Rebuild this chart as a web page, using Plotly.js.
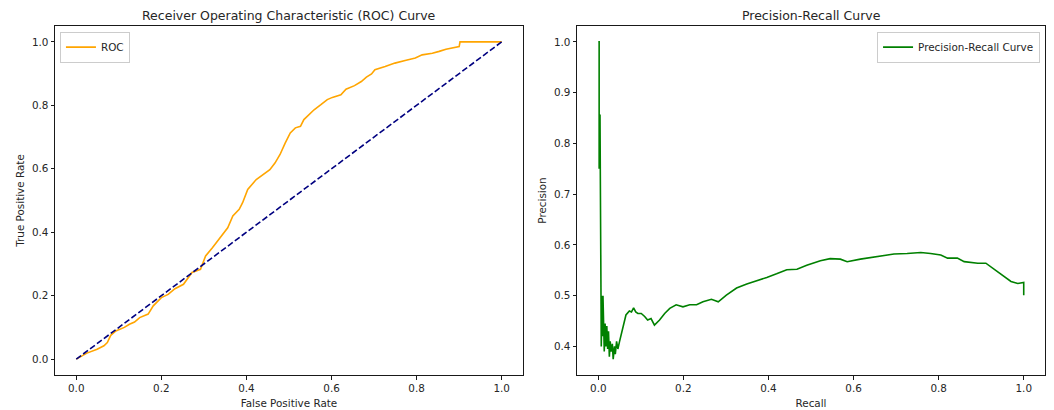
<!DOCTYPE html>
<html>
<head>
<meta charset="utf-8">
<script src="https://cdn.plot.ly/plotly-3.0.1.min.js"></script>
<style>html,body{margin:0;padding:0;background:#fff;}#chart{width:1054px;height:410px;}</style>
</head>
<body>
<div id="chart"></div>
<script>
// ROC curve data
const fpr = [0, 0.025, 0.049, 0.065, 0.073, 0.081, 0.093, 0.113, 0.125, 0.137, 0.149, 0.169, 0.181, 0.2, 0.216, 0.232, 0.252, 0.272, 0.292, 0.304, 0.32, 0.34, 0.356, 0.368, 0.383, 0.391, 0.403, 0.423, 0.439, 0.455, 0.467, 0.479, 0.491, 0.503, 0.515, 0.527, 0.535, 0.547, 0.559, 0.575, 0.59, 0.602, 0.622, 0.634, 0.654, 0.67, 0.682, 0.694, 0.702, 0.726, 0.749, 0.773, 0.797, 0.813, 0.837, 0.853, 0.869, 0.9, 0.902, 1.0];
const tpr = [0, 0.019, 0.031, 0.042, 0.052, 0.075, 0.089, 0.1, 0.11, 0.117, 0.131, 0.142, 0.168, 0.194, 0.204, 0.222, 0.236, 0.273, 0.283, 0.325, 0.351, 0.388, 0.414, 0.451, 0.472, 0.493, 0.535, 0.566, 0.582, 0.597, 0.618, 0.645, 0.681, 0.713, 0.729, 0.734, 0.755, 0.77, 0.786, 0.802, 0.818, 0.825, 0.833, 0.851, 0.862, 0.875, 0.889, 0.899, 0.912, 0.922, 0.933, 0.941, 0.949, 0.959, 0.964, 0.97, 0.977, 0.985, 1.0, 1.0];
// Chance diagonal
const diagX = [0, 1];
const diagY = [0, 1];
// Precision-Recall data
const recall = [0, 0.002, 0.002, 0.004, 0.004, 0.005, 0.005, 0.006, 0.006, 0.007, 0.009, 0.010, 0.011, 0.012, 0.013, 0.014, 0.016, 0.018, 0.020, 0.022, 0.024, 0.026, 0.028, 0.030, 0.033, 0.035, 0.038, 0.040, 0.043, 0.046, 0.050, 0.057, 0.065, 0.073, 0.078, 0.083, 0.088, 0.093, 0.101, 0.109, 0.116, 0.124, 0.132, 0.144, 0.156, 0.168, 0.183, 0.199, 0.215, 0.231, 0.246, 0.266, 0.282, 0.301, 0.325, 0.349, 0.372, 0.396, 0.419, 0.443, 0.467, 0.49, 0.522, 0.545, 0.569, 0.585, 0.616, 0.648, 0.671, 0.695, 0.726, 0.758, 0.781, 0.805, 0.821, 0.844, 0.86, 0.892, 0.911, 0.927, 0.943, 0.955, 0.97, 0.986, 1.0, 1.0];
const precision = [1.0, 1.0, 0.75, 0.8, 0.857, 0.75, 0.78, 0.54, 0.57, 0.4, 0.5, 0.42, 0.5, 0.44, 0.485, 0.39, 0.445, 0.40, 0.44, 0.395, 0.43, 0.38, 0.41, 0.39, 0.405, 0.375, 0.40, 0.385, 0.41, 0.395, 0.41, 0.433, 0.462, 0.47, 0.468, 0.476, 0.468, 0.465, 0.465, 0.459, 0.452, 0.455, 0.442, 0.452, 0.465, 0.475, 0.482, 0.478, 0.482, 0.482, 0.488, 0.493, 0.488, 0.501, 0.515, 0.523, 0.529, 0.536, 0.543, 0.551, 0.552, 0.56, 0.569, 0.573, 0.572, 0.567, 0.572, 0.576, 0.578, 0.582, 0.583, 0.585, 0.583, 0.58, 0.574, 0.574, 0.567, 0.564, 0.564, 0.554, 0.544, 0.537, 0.528, 0.524, 0.526, 0.501];
// Tick labels
const unitTicks = [0, 0.2, 0.4, 0.6, 0.8, 1.0];
const precTicks = [0.4, 0.5, 0.6, 0.7, 0.8, 0.9, 1.0];

const FONT = 'DejaVu Sans, Verdana, sans-serif';
const TXT = '#262626';

const traces = [
  {x: fpr, y: tpr, type: 'scatter', mode: 'lines', name: 'ROC',
   line: {color: '#FFA500', width: 1.6}, xaxis: 'x', yaxis: 'y', legend: 'legend'},
  {x: diagX, y: diagY, type: 'scatter', mode: 'lines', showlegend: false,
   line: {color: '#000080', width: 1.6, dash: '6px,2.6px'}, xaxis: 'x', yaxis: 'y'},
  {x: recall, y: precision, type: 'scatter', mode: 'lines', name: 'Precision-Recall Curve',
   line: {color: '#008000', width: 1.6}, xaxis: 'x2', yaxis: 'y2', legend: 'legend2'}
];

function axisBase(extra) {
  return Object.assign({
    showgrid: false, zeroline: false, showline: true, mirror: true,
    linecolor: '#000', linewidth: 0.9,
    ticks: 'outside', ticklen: 3.6, tickwidth: 0.9, tickcolor: '#000',
    tickfont: {family: FONT, size: 10.4, color: TXT},
    tickformat: '.1f', automargin: false
  }, extra);
}

const legendBase = {
  bordercolor: '#cccccc', borderwidth: 1, bgcolor: 'rgba(255,255,255,0.8)',
  font: {family: FONT, size: 10.4, color: TXT}, yanchor: 'top', itemwidth: 30,
  tracegroupgap: 0
};

const layout = {
  width: 1054, height: 410,
  margin: {l: 55, r: 9, t: 26, b: 35, pad: 0},
  paper_bgcolor: '#fff', plot_bgcolor: '#fff',
  font: {family: FONT, color: TXT},
  xaxis: axisBase({domain: [0, 0.4727], range: [-0.05, 1.05], tickvals: unitTicks, anchor: 'y',
    title: {text: 'False Positive Rate', font: {family: FONT, size: 10.4, color: TXT}, standoff: 6}}),
  yaxis: axisBase({domain: [0, 1], range: [-0.05, 1.05], tickvals: unitTicks, anchor: 'x',
    title: {text: 'True Positive Rate', font: {family: FONT, size: 10.4, color: TXT}, standoff: 5}}),
  xaxis2: axisBase({domain: [0.5273, 1], range: [-0.05, 1.05], tickvals: unitTicks, anchor: 'y2',
    title: {text: 'Recall', font: {family: FONT, size: 10.4, color: TXT}, standoff: 6}}),
  yaxis2: axisBase({domain: [0, 1], range: [0.34375, 1.03125], tickvals: precTicks, anchor: 'x2',
    title: {text: 'Precision', font: {family: FONT, size: 10.4, color: TXT}, standoff: 5}}),
  legend: Object.assign({}, legendBase, {x: 0.005, y: 0.984, xanchor: 'left'}),
  legend2: Object.assign({}, legendBase, {x: 0.995, y: 0.984, xanchor: 'right'}),
  annotations: [
    {text: 'Receiver Operating Characteristic (ROC) Curve', xref: 'paper', yref: 'paper',
     x: 0.23635, y: 1.0315, xanchor: 'center', yanchor: 'middle', showarrow: false,
     font: {family: FONT, size: 12.5, color: TXT}},
    {text: 'Precision-Recall Curve', xref: 'paper', yref: 'paper',
     x: 0.76365, y: 1.0315, xanchor: 'center', yanchor: 'middle', showarrow: false,
     font: {family: FONT, size: 12.5, color: TXT}}
  ],
  showlegend: true
};

Plotly.newPlot('chart', traces, layout, {staticPlot: true, displayModeBar: false});
</script>
</body>
</html>
